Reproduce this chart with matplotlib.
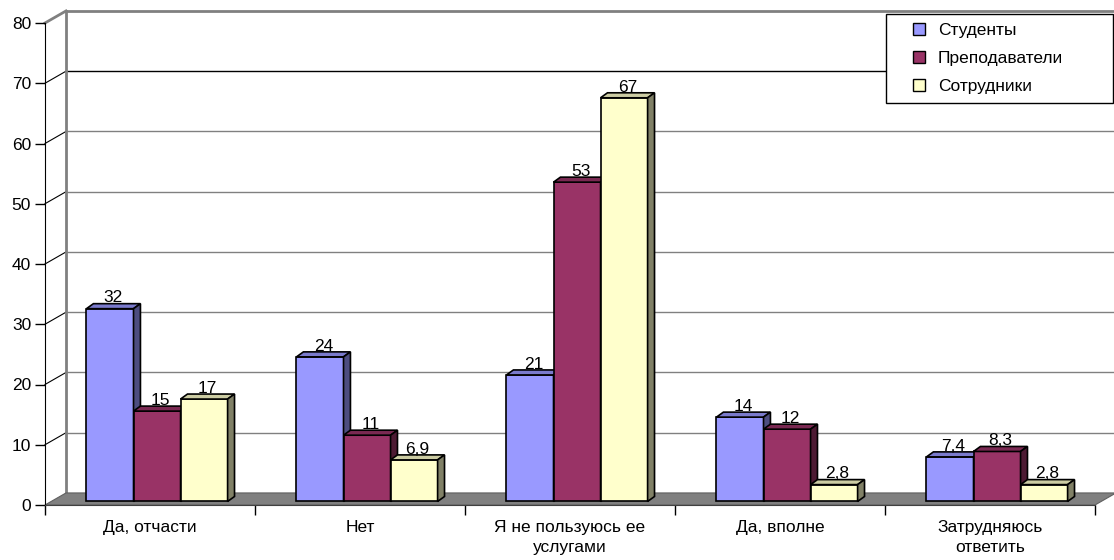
import matplotlib
matplotlib.use("Agg")
import matplotlib.pyplot as plt
from matplotlib.patches import Polygon
from matplotlib.lines import Line2D
import matplotlib.colors as mcolors
import numpy as np

plt.rcParams["font.family"] = ["Liberation Sans", "DejaVu Sans"]

categories = ["Да, отчасти", "Нет", "Я не пользуюсь ее\nуслугами", "Да, вполне",
              "Затрудняюсь\nответить"]
series = ["Студенты", "Преподаватели", "Сотрудники"]
students = [32, 24, 21, 14, 7.4]
teachers = [15, 11, 53, 12, 8.3]
staff = [17, 6.9, 67, 2.8, 2.8]
y_ticks = [0, 10, 20, 30, 40, 50, 60, 70, 80]

COLORS = ["#9999FF", "#993366", "#FFFFCC"]
GRAY = "#808080"
FS = 12.5

# 3d look (data units): back wall offset, bar depth, bar width
DX, DY = 0.1, 2.0
BDX, BDY = 0.033, 0.83
W = 0.224
FX, FY = (DX - BDX) / 2, (DY - BDY) / 2


def shade(c, f):
    r, g, b = mcolors.to_rgb(c)
    return (r * f, g * f, b * f)


fig = plt.figure(figsize=(11.14, 5.6), dpi=100)
ax = fig.add_axes([45 / 1114, 55 / 560, 1050 / 1114, 482 / 560])
ax.set_xlim(0, 5)
ax.set_ylim(0, 80)
ax.patch.set_visible(False)
n = len(categories)

# back wall grid + diagonals
for t in y_ticks:
    if t == 0:
        continue
    col = GRAY if t == 80 else ("black" if t == 70 else GRAY)
    lw = 2 if t == 80 else 1
    ax.plot([DX, n + DX + 0.2], [t + DY, t + DY], color=col, lw=lw, clip_on=False, zorder=1)
    ax.plot([0, DX], [t, t + DY], color=GRAY if t == 80 else "black", lw=lw if t == 80 else 0.8,
            clip_on=False, zorder=1)
ax.plot([DX, DX], [DY, y_ticks[-1] + DY], color=GRAY, lw=2, clip_on=False, zorder=1)

# floor
ax.add_patch(Polygon([(0, 0), (n, 0), (n + DX, DY), (DX, DY)], closed=True,
                     facecolor=GRAY, edgecolor="#606060", lw=0.8, clip_on=False, zorder=1.5))

# bars
for j, (vals, c) in enumerate(zip([students, teachers, staff], COLORS)):
    x = np.arange(n) + 0.5 - 1.5 * W + j * W + FX
    bars = ax.bar(x, vals, width=W, bottom=FY, align="edge", color=c,
                  edgecolor="black", lw=1.2, zorder=3 + j, clip_on=False)
    for p, v in zip(bars.patches, vals):
        x0, y0, w, h = p.get_x(), p.get_y(), p.get_width(), p.get_height()
        t = y0 + h
        ax.add_patch(Polygon([(x0, t), (x0 + w, t), (x0 + w + BDX, t + BDY), (x0 + BDX, t + BDY)],
                             closed=True, facecolor=shade(c, 0.8), edgecolor="black",
                             lw=1.2, zorder=3 + j, clip_on=False))
        ax.add_patch(Polygon([(x0 + w, y0), (x0 + w + BDX, y0 + BDY), (x0 + w + BDX, t + BDY),
                              (x0 + w, t)], closed=True, facecolor=shade(c, 0.5),
                             edgecolor="black", lw=1.2, zorder=3 + j, clip_on=False))
        ax.text(x0 + w / 2 + BDX / 2, t + BDY + 0.2, f"{v:g}".replace(".", ","),
                ha="center", va="baseline", fontsize=FS, zorder=10)

# axes
for s in ["top", "right"]:
    ax.spines[s].set_visible(False)
ax.spines["left"].set_color("black")
ax.spines["bottom"].set_color("#404040")
ax.set_yticks(y_ticks)
ax.tick_params(axis="y", direction="out", length=7, width=1, pad=3, labelsize=FS)
ax.set_xticks(np.arange(n + 1))
ax.set_xticklabels([])
ax.tick_params(axis="x", which="major", direction="out", length=7, width=1)
ax.set_xticks(np.arange(n) + 0.5, minor=True)
ax.set_xticklabels(categories, minor=True, fontsize=FS, linespacing=1.45)
ax.tick_params(axis="x", which="minor", length=0, pad=10.5)

handles = [Line2D([], [], marker="s", linestyle="none", markerfacecolor=c,
                  markeredgecolor="black", markeredgewidth=1, markersize=8) for c in COLORS]
leg = fig.legend(handles, series, loc="upper left",
                 bbox_to_anchor=(886 / 1114, 1 - 104 / 560, 227 / 1114, 90 / 560),
                 mode="expand", borderaxespad=0, fontsize=FS, fancybox=False,
                 edgecolor="black", framealpha=1, handlelength=2.8, handletextpad=-0.3,
                 labelspacing=0.75, borderpad=0.5)
leg.get_frame().set_linewidth(1)

fig.savefig("out.png", dpi=100, facecolor="white")
